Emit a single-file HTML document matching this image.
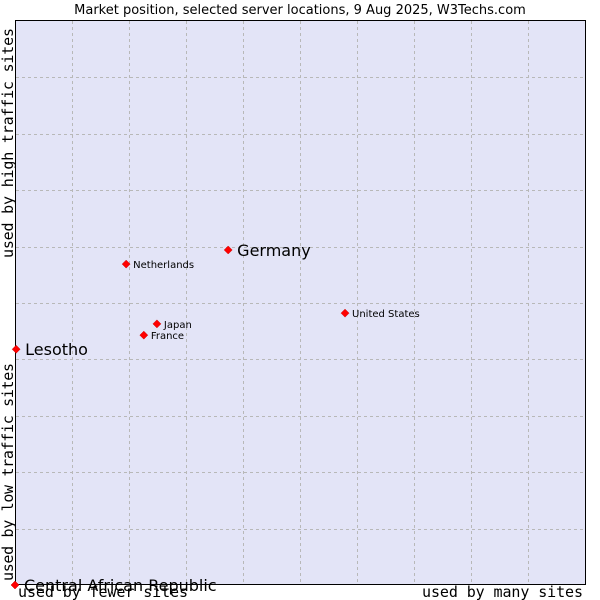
<!DOCTYPE html>
<html><head><meta charset="utf-8"><style>
body{margin:0;background:#fff;}
svg{display:block;font-family:"DejaVu Sans","Liberation Sans",sans-serif;}
</style></head><body>
<svg id="chart" width="600" height="600">
<text x="300" y="14" text-anchor="middle" font-size="13" fill="#000">Market position, selected server locations, 9 Aug 2025, W3Techs.com</text>
<rect x="15.5" y="20.5" width="570" height="564" fill="#e3e4f7" stroke="#000"/>
<g id="grid"></g>
<g id="pts"></g>
<text transform="translate(13,581) rotate(-90)" font-family="DejaVu Sans Mono,Liberation Mono,monospace" font-size="15" textLength="218">used by low traffic sites</text>
<text transform="translate(13,258) rotate(-90)" font-family="DejaVu Sans Mono,Liberation Mono,monospace" font-size="15" textLength="230">used by high traffic sites</text>
<text x="18" y="597" font-family="DejaVu Sans Mono,Liberation Mono,monospace" font-size="15" textLength="170">used by fewer sites</text>
<text x="422" y="597" font-family="DejaVu Sans Mono,Liberation Mono,monospace" font-size="15" textLength="161">used by many sites</text>
</svg>
<script>
const names=["Germany","Netherlands","United States","Japan","France","Lesotho","Central African Republic"];
const xVals=[37.4,19.5,57.9,24.9,22.6,0.2,0];
const yVals=[59.4,56.9,48.2,46.3,44.3,41.8,0];
const big=[true,false,false,false,false,true,true];
const NS="http://www.w3.org/2000/svg";
const X=v=>15+v*5.7, Y=v=>585-v*5.64;
const g=document.getElementById('grid'), p=document.getElementById('pts');
for(let i=1;i<10;i++){
 const l=document.createElementNS(NS,'line');
 
 
 l.setAttribute('x1',X(i*10)+0.5);l.setAttribute('x2',X(i*10)+0.5);l.setAttribute('y1',21);l.setAttribute('y2',584);
 l.setAttribute('stroke','#b8b8b8');l.setAttribute('stroke-dasharray','3,3');g.appendChild(l);
 const h=document.createElementNS(NS,'line');
 
 
 h.setAttribute('y1',Math.round(Y(i*10))+0.5);h.setAttribute('y2',Math.round(Y(i*10))+0.5);h.setAttribute('x1',16);h.setAttribute('x2',585);
 h.setAttribute('stroke','#b8b8b8');h.setAttribute('stroke-dasharray','3,3');g.appendChild(h);
}
names.forEach((n,i)=>{
 const x=X(xVals[i]), y=Y(yVals[i]);
 const d=document.createElementNS(NS,'path');
 
 
 d.setAttribute('d',`M${x-4} ${y}L${x} ${y-4}L${x+4} ${y}L${x} ${y+4}Z`);
 d.setAttribute('fill','#f00');d.setAttribute('stroke','#c00');d.setAttribute('stroke-width','0.5');p.appendChild(d);
 const t=document.createElementNS(NS,'text');
 
 
 t.setAttribute('x',x+(big[i]?9:7));t.setAttribute('y',y+(big[i]?6:4));
 t.setAttribute('font-size',big[i]?16:10);t.textContent=n;p.appendChild(t);
});
</script>
</body></html>
